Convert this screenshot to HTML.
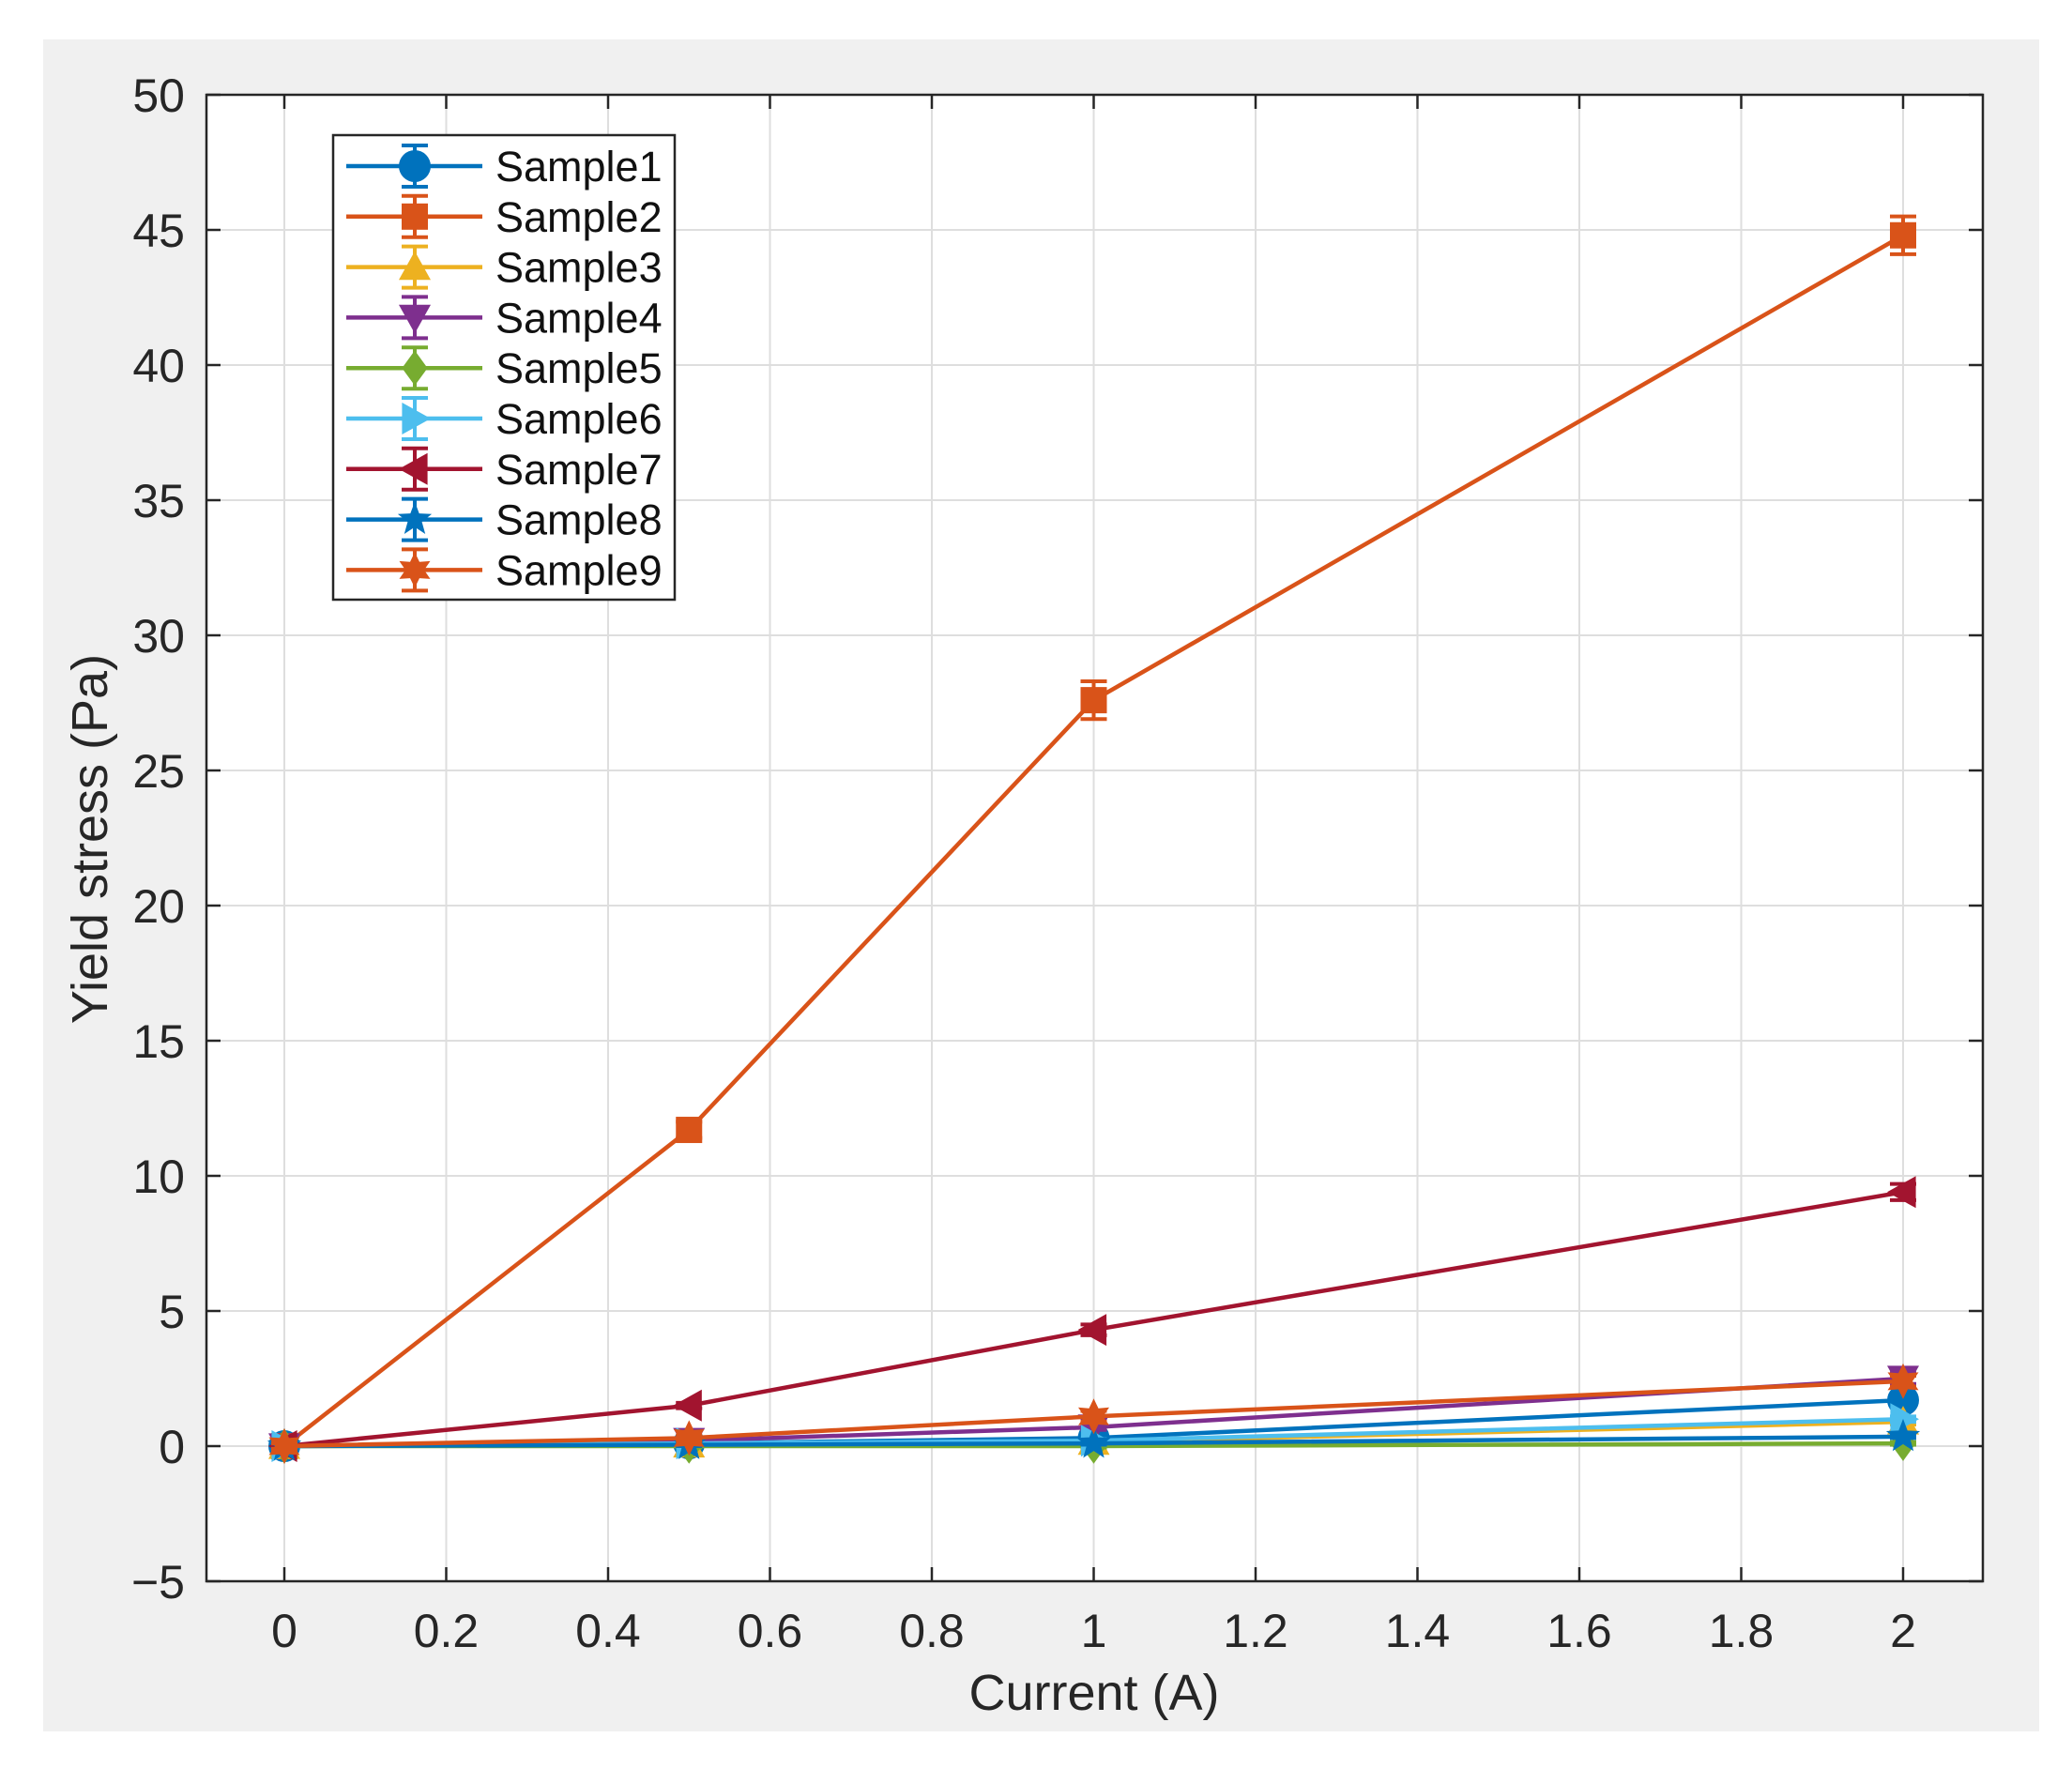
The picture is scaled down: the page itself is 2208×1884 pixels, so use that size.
<!DOCTYPE html>
<html><head><meta charset="utf-8"><style>
html,body{margin:0;padding:0;background:#fff;}
svg{display:block;font-family:"Liberation Sans",Arial,sans-serif;}
</style></head><body>
<svg id="s" width="2208" height="1884" viewBox="0 0 2208 1884" xmlns="http://www.w3.org/2000/svg">
<rect x="0" y="0" width="2208" height="1884" fill="#fff"/>
<rect x="46" y="42" width="2127" height="1803" fill="#f0f0f0"/>
<rect x="220" y="101" width="1893" height="1584" fill="#fff"/>
<g id="grid"></g>
<g id="data"></g>
<rect x="220" y="101" width="1893" height="1584" fill="none" stroke="#262626" stroke-width="2.5"/>
<g id="ticks"></g>
<text x="1166" y="1822" font-size="54" text-anchor="middle" fill="#262626">Current (A)</text>
<text transform="translate(114,894) rotate(-90)" font-size="54" text-anchor="middle" fill="#262626">Yield stress (Pa)</text>
<g id="legend"></g>
</svg>
<script>
const NS="http://www.w3.org/2000/svg";
function el(p,t,a,txt){const e=document.createElementNS(NS,t);for(const k in a)e.setAttribute(k,a[k]);if(txt!==undefined)e.textContent=txt;p.appendChild(e);return e;}
const X=v=>303+v*862.5, Y=v=>101+(50-v)*28.8;
const g=document.getElementById('grid'),tk=document.getElementById('ticks');
for(let i=0;i<=10;i++){const v=i*0.2,x=X(v);
 el(g,'line',{x1:x,y1:101,x2:x,y2:1685,stroke:'#dedede','stroke-width':2});
 el(tk,'line',{x1:x,y1:1685,x2:x,y2:1670,stroke:'#262626','stroke-width':2.5});
 el(tk,'line',{x1:x,y1:101,x2:x,y2:116,stroke:'#262626','stroke-width':2.5});
 el(tk,'text',{x:x,y:1755,'font-size':50,'text-anchor':'middle',fill:'#262626'},(Math.round(v*10)/10).toString());}
for(let v=-5;v<=50;v+=5){const y=Y(v);
 el(g,'line',{x1:220,y1:y,x2:2113,y2:y,stroke:'#dedede','stroke-width':2});
 el(tk,'line',{x1:220,y1:y,x2:235,y2:y,stroke:'#262626','stroke-width':2.5});
 el(tk,'line',{x1:2113,y1:y,x2:2098,y2:y,stroke:'#262626','stroke-width':2.5});
 el(tk,'text',{x:197,y:y+18,'font-size':50,'text-anchor':'end',fill:'#262626'},v<0?'\u2212'+(-v):v);}
const S=[
 ['Sample1','#0072bd','o',[0,0.1,0.3,1.7],[0.1,0.05,0.1,0.2]],
 ['Sample2','#d95319','s',[0,11.7,27.6,44.8],[0.1,0.3,0.7,0.7]],
 ['Sample3','#edb120','^',[0,0.05,0.15,0.9],[0.1,0.05,0.05,0.1]],
 ['Sample4','#7e2f8e','v',[0,0.2,0.7,2.5],[0.1,0.05,0.1,0.2]],
 ['Sample5','#77ac30','d',[0,0,0,0.1],[0.1,0.05,0.05,0.05]],
 ['Sample6','#4dbeee','>',[0,0.1,0.2,1.0],[0.1,0.05,0.05,0.1]],
 ['Sample7','#a2142f','<',[0,1.5,4.3,9.4],[0.1,0.1,0.2,0.3]],
 ['Sample8','#0072bd','p',[0,0.05,0.1,0.35],[0.1,0.05,0.05,0.05]],
 ['Sample9','#d95319','h',[0,0.3,1.1,2.4],[0.1,0.1,0.2,0.2]]];
const xs=[0,0.5,1,2];
function star(cx,cy,r,n,ri){let p=[];for(let i=0;i<2*n;i++){const a=-Math.PI/2+i*Math.PI/n,rr=i%2?ri:r;p.push((cx+rr*Math.cos(a)).toFixed(1)+','+(cy+rr*Math.sin(a)).toFixed(1));}return p.join(' ');}
function marker(p,m,cx,cy,c){const r=17;
 switch(m){
 case 'o':el(p,'circle',{cx,cy,r:r,fill:c});break;
 case 's':el(p,'rect',{x:cx-14,y:cy-14,width:28,height:28,fill:c});break;
 case '^':el(p,'polygon',{points:`${cx},${cy-r} ${cx+r},${cy+r*0.8} ${cx-r},${cy+r*0.8}`,fill:c});break;
 case 'v':el(p,'polygon',{points:`${cx},${cy+r} ${cx+r},${cy-r*0.8} ${cx-r},${cy-r*0.8}`,fill:c});break;
 case 'd':el(p,'polygon',{points:`${cx},${cy-r*1.1} ${cx+r*0.8},${cy} ${cx},${cy+r*1.1} ${cx-r*0.8},${cy}`,fill:c});break;
 case '>':el(p,'polygon',{points:`${cx+r},${cy} ${cx-r*0.8},${cy-r} ${cx-r*0.8},${cy+r}`,fill:c});break;
 case '<':el(p,'polygon',{points:`${cx-r},${cy} ${cx+r*0.8},${cy-r} ${cx+r*0.8},${cy+r}`,fill:c});break;
 case 'p':el(p,'polygon',{points:star(cx,cy,19,5,8),fill:c});break;
 case 'h':el(p,'polygon',{points:star(cx,cy,19,6,10),fill:c});break;}}
const d=document.getElementById('data');
for(const s of S){const [n,c,m,ys,es]=s;
 el(d,'polyline',{points:xs.map((x,i)=>X(x)+','+Y(ys[i])).join(' '),fill:'none',stroke:c,'stroke-width':4.5});
 xs.forEach((x,i)=>{const cx=X(x),y1=Y(ys[i]+es[i]),y2=Y(ys[i]-es[i]);
  el(d,'path',{d:`M${cx},${y1}V${y2}M${cx-14},${y1}H${cx+14}M${cx-14},${y2}H${cx+14}`,stroke:c,'stroke-width':4,fill:'none'});
  marker(d,m,cx,Y(ys[i]),c);});}
const L=document.getElementById('legend');
el(L,'rect',{x:355,y:144,width:364,height:495,fill:'#fff',stroke:'#262626','stroke-width':2.5});
S.forEach((s,i)=>{const y=177+i*53.8,[n,c,m]=s;
 el(L,'line',{x1:369,y1:y,x2:514,y2:y,stroke:c,'stroke-width':4.5});
 el(L,'path',{d:`M442,${y-22}V${y+22}M428,${y-22}H456M428,${y+22}H456`,stroke:c,'stroke-width':4,fill:'none'});
 marker(L,m,442,y,c);
 el(L,'text',{x:528,y:y+16,'font-size':45,fill:'#111'},n);});
</script>
</body></html>
